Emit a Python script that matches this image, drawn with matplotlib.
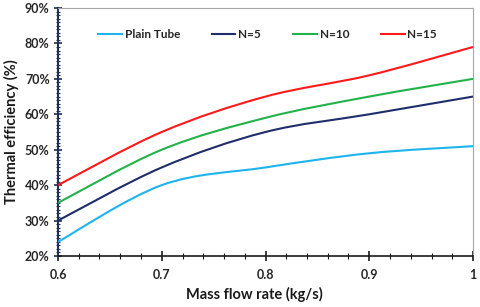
import matplotlib
matplotlib.use("Agg")
import matplotlib.pyplot as plt
from matplotlib.path import Path
from matplotlib.patches import PathPatch
from matplotlib.ticker import MultipleLocator, FuncFormatter
import numpy as np

plt.rcParams['font.family'] = ['Lato', 'DejaVu Sans']

mass_flow = [0.6, 0.7, 0.8, 0.9, 1.0]
plain_tube = [24, 40, 45, 49, 51]
n5 = [30, 45, 55, 60, 65]
n10 = [35, 50, 59, 65, 70]
n15 = [40, 55, 65, 71, 79]

series = [("Plain Tube", plain_tube, "#1EB4EE"),
          ("N=5", n5, "#1F2E6B"),
          ("N=10", n10, "#22B24C"),
          ("N=15", n15, "#FF1A1A")]

fig = plt.figure(figsize=(4.8, 3.07), dpi=100)
ax = fig.add_axes([58/480, 1-256/307, (473-58)/480, (256-8)/307])

def smooth_path(x, y):
    pts = np.column_stack([x, y]).astype(float)
    n = len(pts)
    verts = [pts[0]]
    codes = [Path.MOVETO]
    for i in range(n-1):
        p0 = pts[i-1] if i > 0 else pts[i]
        p1 = pts[i]
        p2 = pts[i+1]
        p3 = pts[i+2] if i+2 < n else pts[i+1]
        c1 = p1 + (p2 - p0) / 6.0
        c2 = p2 - (p3 - p1) / 6.0
        verts += [c1, c2, p2]
        codes += [Path.CURVE4]*3
    return Path(verts, codes)

for name, vals, col in series:
    patch = PathPatch(smooth_path(mass_flow, vals), facecolor='none', edgecolor=col, lw=1.5, zorder=3)
    ax.add_patch(patch)
    ax.plot([], [], color=col, lw=1.5, label=name)

ax.set_xlim(0.6, 1.0)
ax.set_ylim(20, 90)
ax.xaxis.set_major_locator(MultipleLocator(0.1))
ax.xaxis.set_minor_locator(MultipleLocator(0.02))
ax.yaxis.set_major_locator(MultipleLocator(10))
ax.yaxis.set_minor_locator(MultipleLocator(1))
ax.xaxis.set_major_formatter(FuncFormatter(lambda v, p: "1" if abs(v-1) < 1e-9 else f"{v:.1f}"))
ax.yaxis.set_major_formatter(FuncFormatter(lambda v, p: f"{int(round(v))}%"))

navy = "#1F2E5A"
for s in ['top', 'right']:
    ax.spines[s].set_color("#A6A6A6")
    ax.spines[s].set_linewidth(0.8)
ax.spines['left'].set_color(navy)
ax.spines['left'].set_linewidth(1.5)
ax.spines['bottom'].set_color("#1a1a1a")
ax.spines['bottom'].set_linewidth(1.2)

ax.tick_params(axis='y', which='major', direction='inout', length=6, width=1.2, color=navy, labelsize=9, pad=3)
ax.tick_params(axis='y', which='minor', direction='inout', length=3, width=0.8, color=navy)
ax.tick_params(axis='x', which='major', direction='inout', length=7, width=1.2, color="#1a1a1a", labelsize=9, pad=6)
ax.tick_params(axis='x', which='minor', direction='inout', length=4, width=0.8, color="#1a1a1a")
for lbl in ax.get_xticklabels() + ax.get_yticklabels():
    lbl.set_fontweight('bold')
    lbl.set_color('#262626')

ax.set_xlabel("Mass flow rate (kg/s)", fontsize=10.5, fontweight='bold', color='#1a1a1a', labelpad=4, x=0.473)
ax.set_ylabel("Thermal efficiency (%)", fontsize=10.5, fontweight='bold', color='#1a1a1a', labelpad=4)

leg = ax.legend(loc='upper left', bbox_to_anchor=(0.085, 0.935), ncol=4, frameon=False,
                fontsize=8.5, handlelength=2.0, handletextpad=0.25, columnspacing=2.7,
                borderaxespad=0)
for t in leg.get_texts():
    t.set_fontweight('bold')
    t.set_color('#262626')

fig.savefig("out.png", dpi=100)
